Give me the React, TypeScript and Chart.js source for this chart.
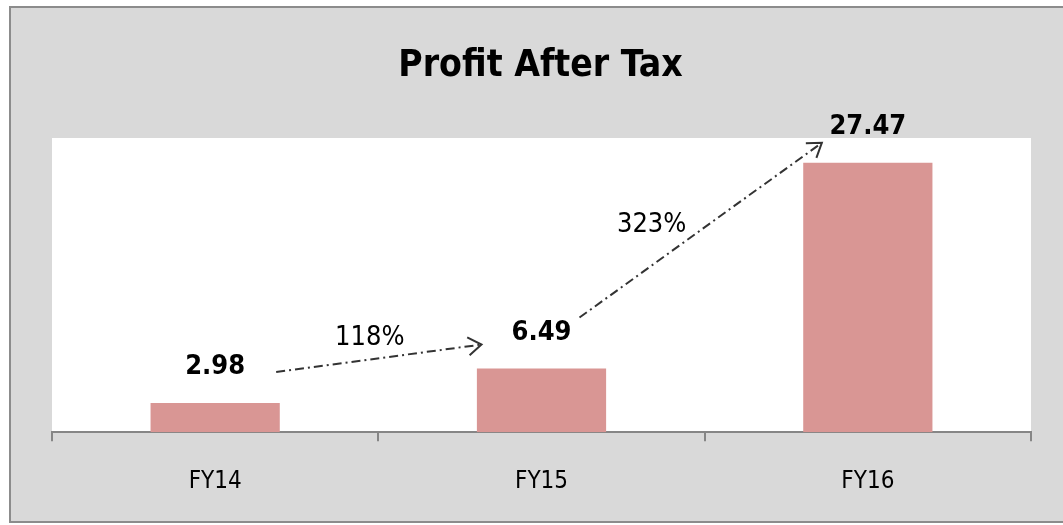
import React, { useEffect, useRef } from "react";
import { Chart, registerables } from "chart.js";

Chart.register(...registerables);

const categories: string[] = ["FY14", "FY15", "FY16"];
const profitAfterTax: number[] = [2.98, 6.49, 27.47];
const growthLabels: string[] = ["118%", "323%"];
const chartTitle = "Profit After Tax";
const yMin = 0;
const yMax = 30;

const FONT = '"Liberation Sans Narrow", "DejaVu Sans Condensed", "Open Sans", sans-serif';

const framePlugin = {
  id: "frame",
  beforeDraw(chart: any) {
    const { ctx, width, height, chartArea } = chart;
    ctx.save();
    ctx.fillStyle = "#ffffff";
    ctx.fillRect(0, 0, width, height);
    ctx.fillStyle = "#d9d9d9";
    ctx.fillRect(9, 6, width - 9, height - 9);
    ctx.strokeStyle = "#8c8c8c";
    ctx.lineWidth = 2;
    ctx.beginPath();
    ctx.moveTo(width, 7);
    ctx.lineTo(10, 7);
    ctx.lineTo(10, height - 3);
    ctx.lineTo(width, height - 3);
    ctx.stroke();
    ctx.fillStyle = "#ffffff";
    ctx.fillRect(chartArea.left, chartArea.top, chartArea.right - chartArea.left, chartArea.bottom - chartArea.top);
    // title
    ctx.fillStyle = "#000000";
    ctx.font = `bold 37px ${FONT}`;
    ctx.textAlign = "center";
    ctx.textBaseline = "middle";
    ctx.fillText(chartTitle, (chartArea.left + chartArea.right) / 2 - 1, 66);
    ctx.restore();
  },
};

function drawArrow(ctx: CanvasRenderingContext2D, x1: number, y1: number, x2: number, y2: number) {
  ctx.save();
  ctx.strokeStyle = "#333333";
  ctx.lineWidth = 2;
  ctx.setLineDash([9, 4, 2, 4]);
  ctx.beginPath();
  ctx.moveTo(x1, y1);
  ctx.lineTo(x2, y2);
  ctx.stroke();
  ctx.setLineDash([]);
  const a = Math.atan2(y2 - y1, x2 - x1);
  const L = 16;
  const spread = 0.6;
  ctx.beginPath();
  ctx.moveTo(x2 - L * Math.cos(a - spread), y2 - L * Math.sin(a - spread));
  ctx.lineTo(x2, y2);
  ctx.lineTo(x2 - L * Math.cos(a + spread), y2 - L * Math.sin(a + spread));
  ctx.stroke();
  ctx.restore();
}

const labelPlugin = {
  id: "labelsArrows",
  afterDatasetsDraw(chart: any) {
    const { ctx } = chart;
    const meta = chart.getDatasetMeta(0);
    const pts = meta.data.map((el: any) => ({ x: el.x, y: el.y - 36 }));
    ctx.save();
    ctx.fillStyle = "#000000";
    ctx.font = `bold 27px ${FONT}`;
    ctx.textAlign = "center";
    ctx.textBaseline = "middle";
    profitAfterTax.forEach((v, i) => {
      ctx.fillText(v.toFixed(2), pts[i].x, pts[i].y);
    });
    // arrows between consecutive labels
    const arrowOffsets = [
      { sx: 61, sy: 5, ex: -60, ey: 12, lx: -9, ly: -20 },
      { sx: 38, sy: -15, ex: -46, ey: 16, lx: -49, ly: -5 },
    ];
    ctx.font = `27px ${FONT}`;
    growthLabels.forEach((g, i) => {
      const o = arrowOffsets[i];
      const x1 = pts[i].x + o.sx;
      const y1 = pts[i].y + o.sy;
      const x2 = pts[i + 1].x + o.ex;
      const y2 = pts[i + 1].y + o.ey;
      drawArrow(ctx, x1, y1, x2, y2);
      ctx.fillStyle = "#000000";
      ctx.fillText(g, (x1 + x2) / 2 + o.lx, (y1 + y2) / 2 + o.ly);
    });
    ctx.restore();
  },
};

export default function App() {
  const ref = useRef<HTMLCanvasElement | null>(null);
  useEffect(() => {
    document.body.style.margin = "0";
    const canvas = ref.current;
    if (!canvas) return;
    const chart = new Chart(canvas, {
      type: "bar",
      data: {
        labels: categories,
        datasets: [
          {
            label: chartTitle,
            data: profitAfterTax,
            backgroundColor: "#d99694",
            borderWidth: 0,
            categoryPercentage: 1,
            barPercentage: 0.396,
          },
        ],
      },
      options: {
        animation: false,
        responsive: false,
        maintainAspectRatio: false,
        layout: { padding: { left: 52, right: 32, top: 138, bottom: 3 } },
        plugins: {
          legend: { display: false },
          title: { display: false },
          tooltip: { enabled: false },
        },
        scales: {
          x: {
            offset: true,
            grid: {
              display: true,
              offset: true,
              drawOnChartArea: false,
              drawTicks: true,
              tickLength: 9,
              color: "#868686",
              lineWidth: 2,
            },
            border: { display: true, color: "#868686", width: 2 },
            ticks: {
              color: "#000000",
              font: { family: FONT, size: 24 },
              padding: 26,
            },
          },
          y: {
            display: false,
            min: yMin,
            max: yMax,
          },
        },
      },
      plugins: [framePlugin, labelPlugin],
    });
    return () => chart.destroy();
  }, []);
  return <canvas ref={ref} width={1063} height={525} style={{ display: "block" }} />;
}
